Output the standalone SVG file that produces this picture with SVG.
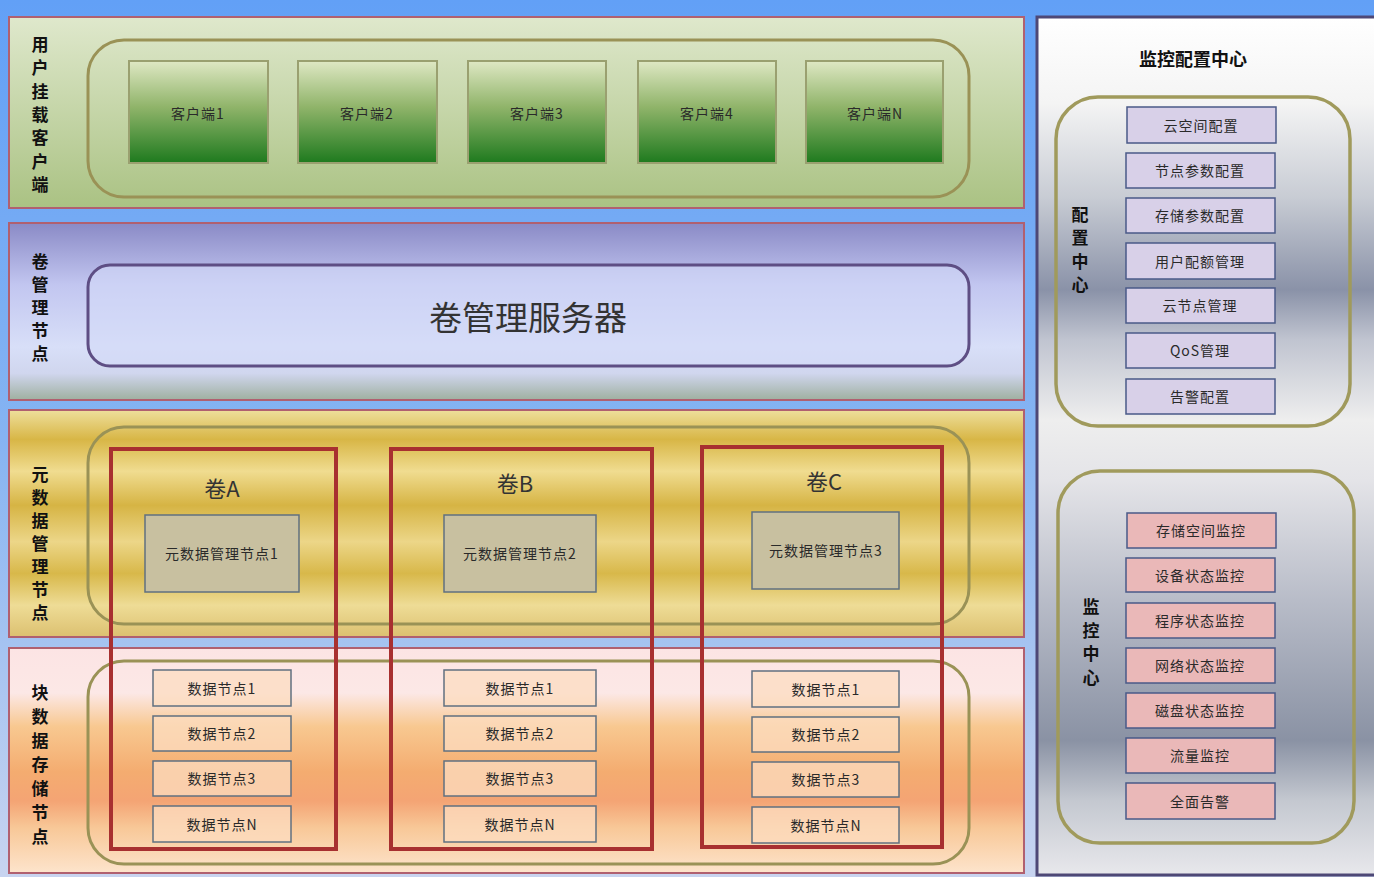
<svg xmlns="http://www.w3.org/2000/svg" width="1374" height="877" viewBox="0 0 1374 877">
<defs>
<linearGradient id="bg" x1="0" y1="0" x2="0" y2="1"><stop offset="0" stop-color="#62a0f6"/><stop offset="0.5" stop-color="#86b4f2"/><stop offset="1" stop-color="#c8d4f0"/></linearGradient>
<linearGradient id="gGreen" x1="0" y1="0" x2="0" y2="1"><stop offset="0" stop-color="#dfe8cc"/><stop offset="1" stop-color="#aac283"/></linearGradient>
<linearGradient id="gClient" x1="0" y1="0" x2="0" y2="1"><stop offset="0" stop-color="#dfe8c4"/><stop offset="0.45" stop-color="#90b46a"/><stop offset="1" stop-color="#1e7a1e"/></linearGradient>
<linearGradient id="gBlue" x1="0" y1="0" x2="0" y2="1"><stop offset="0" stop-color="#8a8ac6"/><stop offset="0.35" stop-color="#c2c6f0"/><stop offset="0.7" stop-color="#d8dff8"/><stop offset="0.85" stop-color="#d0d6ee"/><stop offset="1" stop-color="#9fb0a0"/></linearGradient>
<linearGradient id="gGold" x1="0" y1="0" x2="0" y2="1"><stop offset="0" stop-color="#eedf9c"/><stop offset="0.13" stop-color="#d8b646"/><stop offset="0.27" stop-color="#f0dc90"/><stop offset="0.42" stop-color="#d6b444"/><stop offset="0.58" stop-color="#ecd688"/><stop offset="0.72" stop-color="#d8b84a"/><stop offset="0.86" stop-color="#eedc96"/><stop offset="1" stop-color="#dcc070"/></linearGradient>
<linearGradient id="gPeach" x1="0" y1="0" x2="0" y2="1"><stop offset="0" stop-color="#fce4e4"/><stop offset="0.2" stop-color="#fce8e6"/><stop offset="0.35" stop-color="#f8c890"/><stop offset="0.55" stop-color="#f4ac70"/><stop offset="0.68" stop-color="#f4a474"/><stop offset="0.8" stop-color="#f8c898"/><stop offset="1" stop-color="#fde4cc"/></linearGradient>
<linearGradient id="gPanel" x1="0" y1="0" x2="0" y2="1"><stop offset="0" stop-color="#ffffff"/><stop offset="0.1" stop-color="#f4f4f4"/><stop offset="0.21" stop-color="#c8ccd4"/><stop offset="0.318" stop-color="#8a92a8"/><stop offset="0.376" stop-color="#c0c4d0"/><stop offset="0.47" stop-color="#eeeeee"/><stop offset="0.54" stop-color="#e4e4e8"/><stop offset="0.68" stop-color="#b8bcc8"/><stop offset="0.843" stop-color="#8a92a4"/><stop offset="0.913" stop-color="#c4c8d0"/><stop offset="1" stop-color="#e8e8ec"/></linearGradient>
</defs>
<style>
text{font-family:"Noto Sans CJK SC","Noto Sans",sans-serif;fill:#2a2a2a;}
.band{stroke:#b06070;stroke-width:2;}
.lbl{font-size:17px;font-weight:bold;fill:#111;text-anchor:middle;}
.inner{fill:none;stroke:#9a9256;stroke-width:3;}
.client{fill:url(#gClient);stroke:#9aa070;stroke-width:2;}
.t{font-size:14px;text-anchor:middle;dominant-baseline:central;letter-spacing:1px;}
.meta{fill:#c8c0a0;stroke:#607080;stroke-width:1.5;}
.data{fill:#fcdcc0;fill-opacity:0.75;stroke:#607080;stroke-width:1.5;}
.vol{fill:none;stroke:#a83030;stroke-width:4;}
.cfg{fill:#d8d0e8;stroke:#4a5a88;stroke-width:1.5;}
.mon{fill:#eab8b8;stroke:#4a5a88;stroke-width:1.5;}
.round{fill:none;stroke:#a09a5c;stroke-width:3.5;}
</style>
<rect x="0" y="0" width="1374" height="877" fill="url(#bg)"/>

<g id="layer-client">
<rect class="band" x="9" y="17" width="1015" height="191" fill="url(#gGreen)"/>
<text class="lbl"><tspan x="40" y="51">用</tspan><tspan x="40" y="74">户</tspan><tspan x="40" y="98">挂</tspan><tspan x="40" y="121">载</tspan><tspan x="40" y="144">客</tspan><tspan x="40" y="168">户</tspan><tspan x="40" y="191">端</tspan></text>
<rect class="inner" x="88" y="40" width="881" height="157" rx="36"/>
</g>
<g id="client1"><rect class="client" x="129" y="61" width="139" height="102"/><text class="t" x="198" y="113">客户端1</text></g>
<g id="client2"><rect class="client" x="298" y="61" width="139" height="102"/><text class="t" x="367" y="113">客户端2</text></g>
<g id="client3"><rect class="client" x="468" y="61" width="138" height="102"/><text class="t" x="537" y="113">客户端3</text></g>
<g id="client4"><rect class="client" x="638" y="61" width="138" height="102"/><text class="t" x="707" y="113">客户端4</text></g>
<g id="clientN"><rect class="client" x="806" y="61" width="137" height="102"/><text class="t" x="875" y="113">客户端N</text></g>

<g id="layer-volume">
<rect class="band" x="9" y="223" width="1015" height="177" fill="url(#gBlue)"/>
<text class="lbl"><tspan x="40" y="268">卷</tspan><tspan x="40" y="291">管</tspan><tspan x="40" y="314">理</tspan><tspan x="40" y="337">节</tspan><tspan x="40" y="360">点</tspan></text>
</g>
<g id="volume-server">
<rect x="88" y="265" width="881" height="101" rx="22" fill="#d4daf8" fill-opacity="0.6" stroke="#5e4e84" stroke-width="3"/>
<text x="528" y="316" style="font-size:33px;text-anchor:middle;dominant-baseline:central;fill:#333;">卷管理服务器</text>
</g>

<g id="layer-meta">
<rect class="band" x="9" y="410" width="1015" height="227" fill="url(#gGold)"/>
<text class="lbl"><tspan x="40" y="481">元</tspan><tspan x="40" y="504">数</tspan><tspan x="40" y="527">据</tspan><tspan x="40" y="550">管</tspan><tspan x="40" y="573">理</tspan><tspan x="40" y="596">节</tspan><tspan x="40" y="619">点</tspan></text>
<rect class="inner" x="88" y="427" width="881" height="197" rx="36"/>
</g>

<g id="layer-storage">
<rect class="band" x="9" y="648" width="1015" height="225" fill="url(#gPeach)"/>
<text class="lbl"><tspan x="40" y="699">块</tspan><tspan x="40" y="723">数</tspan><tspan x="40" y="747">据</tspan><tspan x="40" y="771">存</tspan><tspan x="40" y="795">储</tspan><tspan x="40" y="819">节</tspan><tspan x="40" y="843">点</tspan></text>
<rect class="inner" x="88" y="661" width="881" height="203" rx="36"/>
</g>

<g id="meta1"><rect class="meta" x="145" y="515" width="154" height="77"/><text class="t" x="222" y="553">元数据管理节点1</text></g>
<g id="meta2"><rect class="meta" x="444" y="515" width="152" height="77"/><text class="t" x="520" y="553">元数据管理节点2</text></g>
<g id="meta3"><rect class="meta" x="752" y="512" width="147" height="77"/><text class="t" x="826" y="550">元数据管理节点3</text></g>

<g id="dataA">
<rect class="data" x="153" y="670" width="138" height="36"/><text class="t" x="222" y="688">数据节点1</text>
<rect class="data" x="153" y="716" width="138" height="35"/><text class="t" x="222" y="733">数据节点2</text>
<rect class="data" x="153" y="761" width="138" height="35"/><text class="t" x="222" y="778">数据节点3</text>
<rect class="data" x="153" y="806" width="138" height="36"/><text class="t" x="222" y="824">数据节点N</text>
</g>
<g id="dataB">
<rect class="data" x="444" y="670" width="152" height="36"/><text class="t" x="520" y="688">数据节点1</text>
<rect class="data" x="444" y="716" width="152" height="35"/><text class="t" x="520" y="733">数据节点2</text>
<rect class="data" x="444" y="761" width="152" height="35"/><text class="t" x="520" y="778">数据节点3</text>
<rect class="data" x="444" y="806" width="152" height="36"/><text class="t" x="520" y="824">数据节点N</text>
</g>
<g id="dataC">
<rect class="data" x="752" y="671" width="147" height="36"/><text class="t" x="826" y="689">数据节点1</text>
<rect class="data" x="752" y="717" width="147" height="35"/><text class="t" x="826" y="734">数据节点2</text>
<rect class="data" x="752" y="762" width="147" height="35"/><text class="t" x="826" y="779">数据节点3</text>
<rect class="data" x="752" y="807" width="147" height="36"/><text class="t" x="826" y="825">数据节点N</text>
</g>

<g id="volA"><rect class="vol" x="111" y="449" width="225" height="400"/><text x="222" y="487" style="font-size:22px;text-anchor:middle;dominant-baseline:central;fill:#333;">卷A</text></g>
<g id="volB"><rect class="vol" x="391" y="449" width="261" height="400"/><text x="515" y="482" style="font-size:22px;text-anchor:middle;dominant-baseline:central;fill:#333;">卷B</text></g>
<g id="volC"><rect class="vol" x="702" y="447" width="240" height="400"/><text x="824" y="480" style="font-size:22px;text-anchor:middle;dominant-baseline:central;fill:#333;">卷C</text></g>

<g id="monitor-config-center">
<rect x="1037" y="17" width="340" height="858" fill="url(#gPanel)" stroke="#4e4876" stroke-width="3"/>
<text x="1193" y="58" style="font-size:18px;font-weight:bold;text-anchor:middle;dominant-baseline:central;fill:#111;">监控配置中心</text>
</g>
<g id="config-center">
<rect class="round" x="1056" y="97" width="294" height="329" rx="42"/>
<text class="lbl"><tspan x="1080" y="221">配</tspan><tspan x="1080" y="244">置</tspan><tspan x="1080" y="268">中</tspan><tspan x="1080" y="291">心</tspan></text>
<rect class="cfg" x="1127" y="107" width="149" height="36"/><text class="t" x="1201" y="125">云空间配置</text>
<rect class="cfg" x="1126" y="153" width="149" height="35"/><text class="t" x="1200" y="170">节点参数配置</text>
<rect class="cfg" x="1126" y="198" width="149" height="35"/><text class="t" x="1200" y="215">存储参数配置</text>
<rect class="cfg" x="1126" y="243" width="149" height="36"/><text class="t" x="1200" y="261">用户配额管理</text>
<rect class="cfg" x="1126" y="288" width="149" height="35"/><text class="t" x="1200" y="305">云节点管理</text>
<rect class="cfg" x="1126" y="333" width="149" height="35"/><text class="t" x="1200" y="350">QoS管理</text>
<rect class="cfg" x="1126" y="379" width="149" height="35"/><text class="t" x="1200" y="396">告警配置</text>
</g>
<g id="monitor-center">
<rect class="round" x="1058" y="471" width="296" height="372" rx="42"/>
<text class="lbl"><tspan x="1091" y="613">监</tspan><tspan x="1091" y="637">控</tspan><tspan x="1091" y="660">中</tspan><tspan x="1091" y="684">心</tspan></text>
<rect class="mon" x="1127" y="513" width="149" height="35"/><text class="t" x="1201" y="530">存储空间监控</text>
<rect class="mon" x="1126" y="558" width="149" height="34"/><text class="t" x="1200" y="575">设备状态监控</text>
<rect class="mon" x="1126" y="603" width="149" height="35"/><text class="t" x="1200" y="620">程序状态监控</text>
<rect class="mon" x="1126" y="648" width="149" height="35"/><text class="t" x="1200" y="665">网络状态监控</text>
<rect class="mon" x="1126" y="693" width="149" height="35"/><text class="t" x="1200" y="710">磁盘状态监控</text>
<rect class="mon" x="1126" y="738" width="149" height="35"/><text class="t" x="1200" y="755">流量监控</text>
<rect class="mon" x="1126" y="783" width="149" height="36"/><text class="t" x="1200" y="801">全面告警</text>
</g>
<g id="connectors"/>
</svg>
